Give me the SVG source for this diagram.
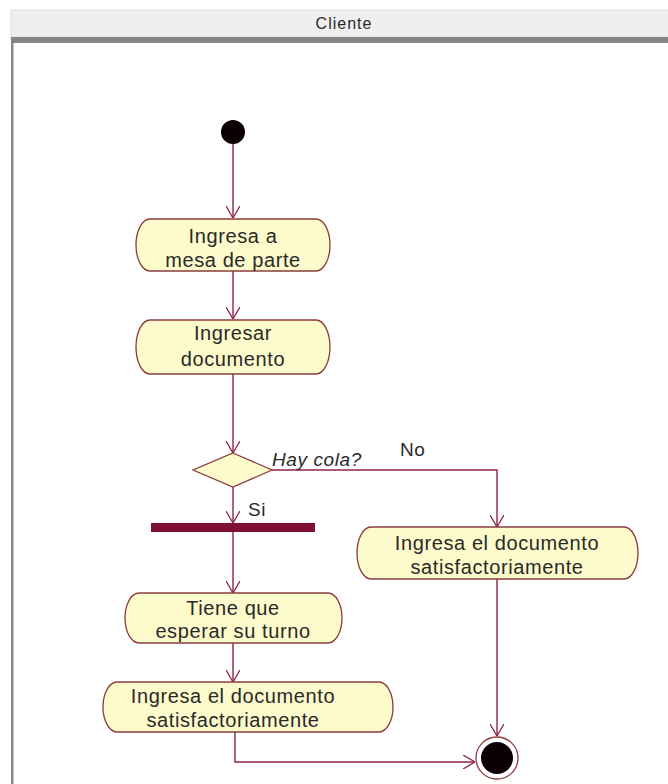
<svg xmlns="http://www.w3.org/2000/svg" width="668" height="784" viewBox="0 0 668 784">
<defs>
<style>
.act{fill:#fdfacb;stroke:#8a3c3c;stroke-width:1.3}
.t{font-family:"Liberation Sans",Arial,sans-serif;font-size:20px;letter-spacing:0.6px;fill:#2a2a2a;text-anchor:middle}
.e{fill:none;stroke:#8e2448;stroke-width:1.4}
.lbl{font-family:"Liberation Sans",Arial,sans-serif;font-size:19px;letter-spacing:0.6px;fill:#2a2a2a}
</style>
<marker id="arr" viewBox="0 0 12 14" refX="12" refY="7" markerWidth="12" markerHeight="14" markerUnits="userSpaceOnUse" orient="auto">
<path d="M0,0 L12,7 L0,14" fill="none" stroke="#8e2448" stroke-width="1.3"/>
</marker>
</defs>
<rect width="668" height="784" fill="#ffffff"/>
<g id="lane">
<rect x="11" y="10" width="660" height="27" fill="#efefef" stroke="#dcdcdc" stroke-width="1"/>
<rect x="11" y="37" width="660" height="6" fill="#858585"/>
<rect x="11" y="43" width="2.5" height="741" fill="#8a8a8a"/>
<text x="344" y="29" font-family="'Liberation Sans',Arial,sans-serif" font-size="16" letter-spacing="1" fill="#2a2a2a" text-anchor="middle">Cliente</text>
</g>
<g id="connectors">
<path class="e" d="M233,144 V218" marker-end="url(#arr)"/>
<path class="e" d="M233,271 V319" marker-end="url(#arr)"/>
<path class="e" d="M233,374 V453" marker-end="url(#arr)"/>
<path class="e" d="M233,487 V523" marker-end="url(#arr)"/>
<path class="e" d="M272,470 H497 V527" marker-end="url(#arr)"/>
<path class="e" d="M233,532 V593" marker-end="url(#arr)"/>
<path class="e" d="M233,642 V682" marker-end="url(#arr)"/>
<path class="e" d="M235,732 V762 H475" marker-end="url(#arr)"/>
<path class="e" d="M497,579 V736" marker-end="url(#arr)"/>
<text class="lbl" x="272" y="466" font-style="italic" font-size="18">Hay cola?</text>
<text class="lbl" x="400" y="456">No</text>
<text class="lbl" x="248" y="516">Si</text>
</g>
<g id="start"><circle cx="233" cy="132" r="12" fill="#0a0006"/></g>
<g id="a1">
<path class="act" d="M150,219 H316 A14,26 0 0 1 316,271 H150 A14,26 0 0 1 150,219 Z"/>
<text class="t" x="233" y="243">Ingresa a</text>
<text class="t" x="233" y="267">mesa de parte</text>
</g>
<g id="a2">
<path class="act" d="M150,320 H316 A14,27 0 0 1 316,374 H150 A14,27 0 0 1 150,320 Z"/>
<text class="t" x="233" y="340">Ingresar</text>
<text class="t" x="233" y="366">documento</text>
</g>
<g id="decision">
<polygon points="233,453 272,470 233,487 193,470" fill="#fdfacb" stroke="#8a3c3c" stroke-width="1.3"/>
</g>
<g id="fork"><rect x="151" y="523" width="164" height="9" fill="#7f0f36"/></g>
<g id="a3">
<path class="act" d="M371,527 H624 A14,26 0 0 1 624,579 H371 A14,26 0 0 1 371,527 Z"/>
<text class="t" x="497" y="550">Ingresa el documento</text>
<text class="t" x="497" y="574">satisfactoriamente</text>
</g>
<g id="a4">
<path class="act" d="M139,593 H328 A14,25 0 0 1 328,643 H139 A14,25 0 0 1 139,593 Z"/>
<text class="t" x="233" y="615">Tiene que</text>
<text class="t" x="233" y="638">esperar su turno</text>
</g>
<g id="a5">
<path class="act" d="M117,682 H379 A14,25 0 0 1 379,732 H117 A14,25 0 0 1 117,682 Z"/>
<text class="t" x="233" y="703">Ingresa el documento</text>
<text class="t" x="233" y="727">satisfactoriamente</text>
</g>
<g id="end">
<circle cx="497" cy="758" r="21" fill="#ffffff" stroke="#8a3c3c" stroke-width="1.3"/>
<circle cx="497" cy="758" r="16" fill="#0a0006"/>
</g>
</svg>
